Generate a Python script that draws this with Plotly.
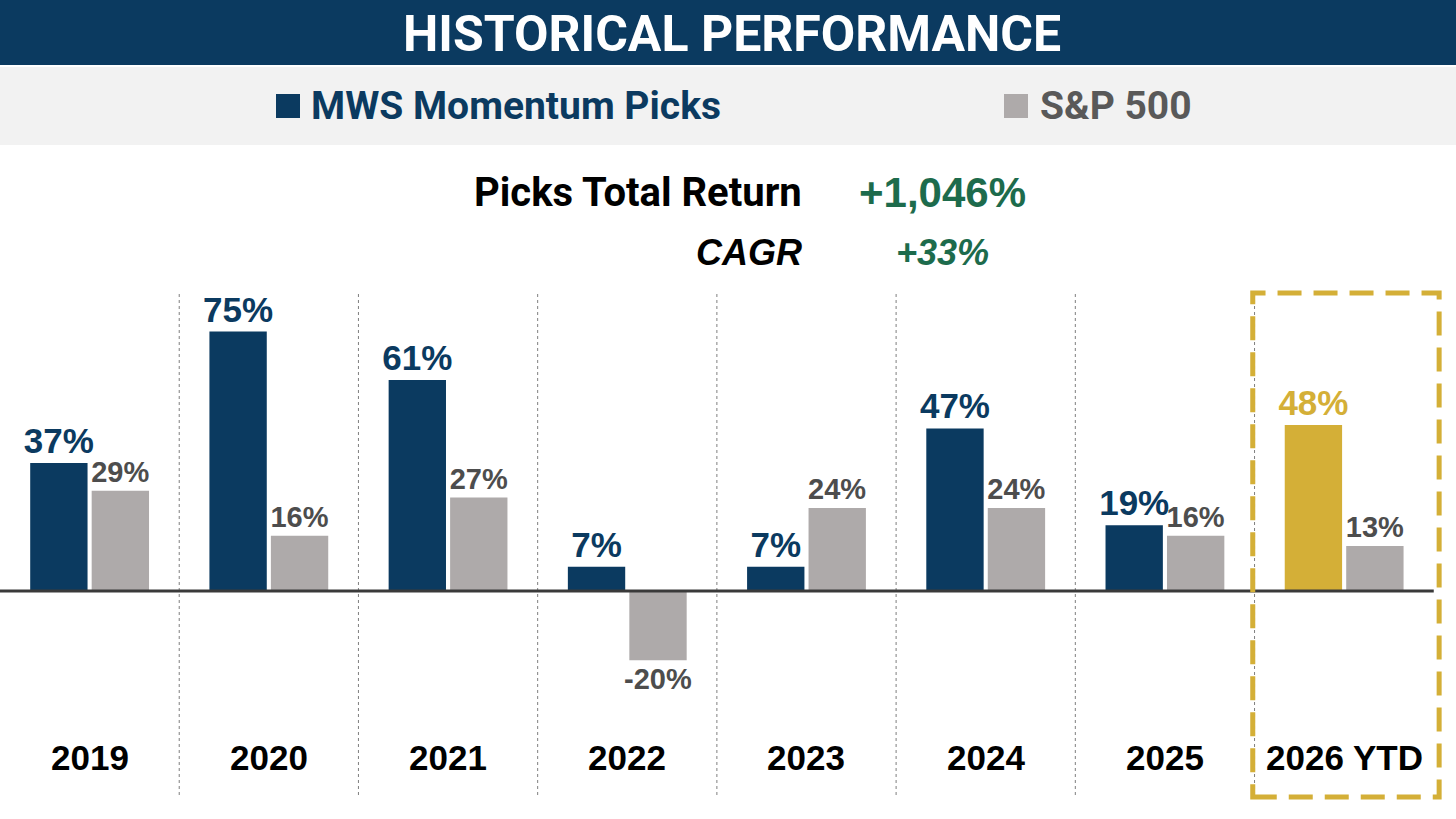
import plotly.graph_objects as go

W, H = 1456, 819

# data
years = ["2019", "2020", "2021", "2022", "2023", "2024", "2025", "2026 YTD"]
mws_picks = [37, 75, 61, 7, 7, 47, 19, 48]
sp500 = [29, 16, 27, -20, 24, 24, 16, 13]

title_text = "HISTORICAL PERFORMANCE"
legend_names = ["MWS Momentum Picks", "S&P 500"]
total_return_label = "+1,046%"
cagr_label = "+33%"

NAVY = "#0B3A60"
GRAY = "#AEAAAA"
GOLD = "#D4AF37"
GREEN = "#1D6B4C"
LABEL_GRAY = "#4D4D4D"
ARIAL = "Liberation Sans, Arial, sans-serif"
COND = "Roboto, sans-serif"


def px_x(px):
    return px / W


def px_y(py):
    return 1 - py / H


# the year-to-date group is highlighted in gold
pick_colors = [GOLD if y.endswith("YTD") else NAVY for y in years]

fig = go.Figure()

fig.add_trace(go.Bar(
    x=years, y=mws_picks, name=legend_names[0],
    marker=dict(color=pick_colors, line=dict(width=0)),
    text=[f"{v}%" for v in mws_picks], texttemplate="<b>%{text}</b>",
    textposition="outside", textangle=0, constraintext="none", cliponaxis=False,
    textfont=dict(family=ARIAL, size=35, color=pick_colors),
))
fig.add_trace(go.Bar(
    x=years, y=sp500, name=legend_names[1],
    marker=dict(color=GRAY, line=dict(width=0)),
    text=[f"{v}%" for v in sp500], texttemplate="<b>%{text}</b>",
    textposition="outside", textangle=0, constraintext="none", cliponaxis=False,
    textfont=dict(family=ARIAL, size=29, color=LABEL_GRAY),
))

shapes = []

# header band and legend band
shapes.append(dict(type="rect", xref="paper", yref="paper", x0=0, x1=1,
                   y0=px_y(65), y1=1, fillcolor=NAVY, line=dict(width=0), layer="below"))
shapes.append(dict(type="rect", xref="paper", yref="paper", x0=0, x1=1,
                   y0=px_y(145), y1=px_y(67), fillcolor="#F2F2F2", line=dict(width=0), layer="below"))

# legend squares
shapes.append(dict(type="rect", xref="paper", yref="paper", x0=px_x(276), x1=px_x(300),
                   y0=px_y(118), y1=px_y(94), fillcolor=NAVY, line=dict(width=0)))
shapes.append(dict(type="rect", xref="paper", yref="paper", x0=px_x(1004), x1=px_x(1028),
                   y0=px_y(118), y1=px_y(94), fillcolor=GRAY, line=dict(width=0)))

# dotted separators between the year groups
for i in range(len(years) - 1):
    shapes.append(dict(type="line", xref="x", yref="paper", x0=i + 0.5, x1=i + 0.5,
                       y0=px_y(795), y1=px_y(292),
                       line=dict(color="#7F7F7F", width=1, dash="dot"), layer="below"))

# zero line
shapes.append(dict(type="line", xref="x", yref="y", x0=-0.5, x1=len(years) - 0.5, y0=0, y1=0,
                   line=dict(color="#3A3A3A", width=3)))

# dashed box around the year-to-date group
shapes.append(dict(type="rect", xref="x", yref="paper", x0=len(years) - 1.51, x1=len(years) - 0.47,
                   y0=px_y(797), y1=px_y(293),
                   line=dict(color=GOLD, width=5, dash="24px,12px"), fillcolor="rgba(0,0,0,0)"))

annotations = []

annotations.append(dict(text=f"<b>{title_text}</b>", xref="paper", yref="paper",
                        x=0.503, y=px_y(34), xanchor="center", yanchor="middle", showarrow=False,
                        font=dict(family=COND, size=50, color="white")))

annotations.append(dict(text=f"<b>{legend_names[0]}</b>", xref="paper", yref="paper",
                        x=px_x(309), y=px_y(106), xanchor="left", yanchor="middle", showarrow=False,
                        font=dict(family=COND, size=39, color=NAVY)))
annotations.append(dict(text=f"<b>{legend_names[1]}</b>", xref="paper", yref="paper",
                        x=px_x(1038), y=px_y(106), xanchor="left", yanchor="middle", showarrow=False,
                        font=dict(family=COND, size=39, color="#595959")))

annotations.append(dict(text="<b>Picks Total Return</b>", xref="paper", yref="paper",
                        x=px_x(804), y=px_y(192), xanchor="right", yanchor="middle", showarrow=False,
                        font=dict(family=COND, size=40, color="black")))
annotations.append(dict(text=f"<b>{total_return_label}</b>", xref="paper", yref="paper",
                        x=px_x(942), y=px_y(192), xanchor="center", yanchor="middle", showarrow=False,
                        font=dict(family=ARIAL, size=42, color=GREEN)))
annotations.append(dict(text="<b><i>CAGR</i></b>", xref="paper", yref="paper",
                        x=px_x(804), y=px_y(252), xanchor="right", yanchor="middle", showarrow=False,
                        font=dict(family=ARIAL, size=36, color="black")))
annotations.append(dict(text=f"<b><i>{cagr_label}</i></b>", xref="paper", yref="paper",
                        x=px_x(942), y=px_y(252), xanchor="center", yanchor="middle", showarrow=False,
                        font=dict(family=ARIAL, size=36, color=GREEN)))

# year labels under the chart (category index positions)
for i, yr in enumerate(years):
    annotations.append(dict(text=f"<b>{yr}</b>", xref="x", yref="paper",
                            x=i, y=px_y(757), xanchor="center", yanchor="middle", showarrow=False,
                            font=dict(family=ARIAL, size=35, color="black")))

px_per_pct = 3.46
zero_px = 591
plot_top = 286

fig.update_layout(
    width=W, height=H,
    margin=dict(l=0, r=0, t=0, b=0),
    paper_bgcolor="white", plot_bgcolor="white",
    barmode="group", bargap=0.314, bargroupgap=0.067,
    showlegend=False,
    shapes=shapes, annotations=annotations,
    xaxis=dict(type="category", domain=[0, 1], range=[-0.5, (W - 89) / 179.3],
               showticklabels=False, showgrid=False, zeroline=False, showline=False, ticks=""),
    yaxis=dict(domain=[0, px_y(plot_top)],
               range=[-(H - zero_px) / px_per_pct, (zero_px - plot_top) / px_per_pct],
               showticklabels=False, showgrid=False, zeroline=False, showline=False, ticks=""),
)

fig.write_html("out.html", config={"displayModeBar": False},
               post_script="document.body.style.margin='0';")
